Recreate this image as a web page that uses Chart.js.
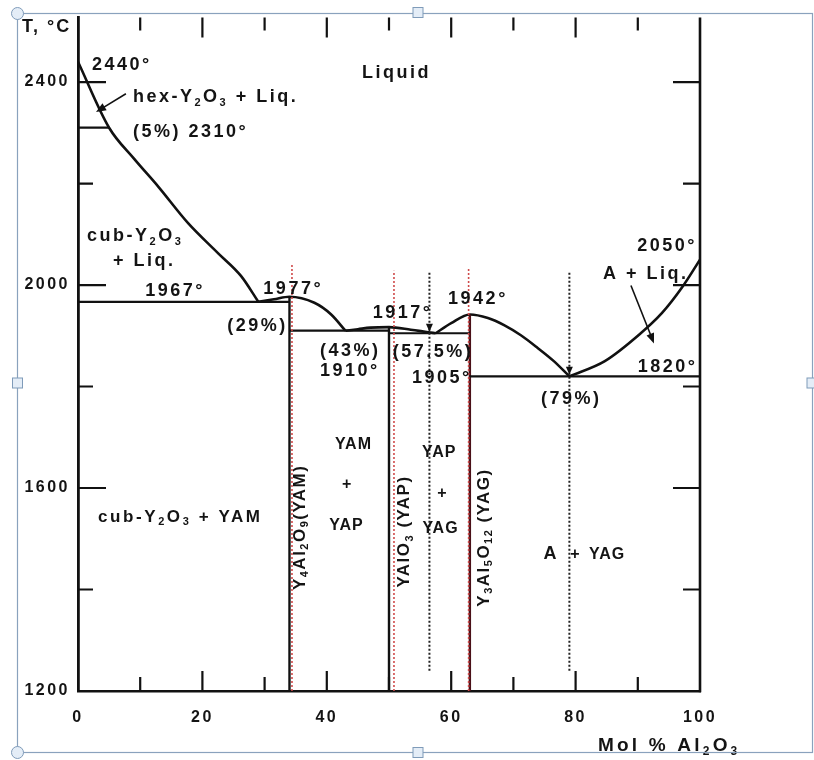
<!DOCTYPE html>
<html>
<head>
<meta charset="utf-8">
<script src="https://cdn.jsdelivr.net/npm/chart.js@4.4.1/dist/chart.umd.min.js"></script>
<style>
  html, body { margin: 0; padding: 0; background: #ffffff; }
  #wrap { position: relative; width: 814px; height: 760px; }
</style>
</head>
<body>
<div id="wrap"><canvas id="c" width="814" height="760"></canvas></div>
<script>
// Y2O3 – Al2O3 phase diagram (composition in mol % Al2O3, temperature in °C)

// axis ticks
const xTickLabels = [0, 20, 40, 60, 80, 100];
const xMarks = [10, 20, 30, 40, 50, 60, 70, 80, 90];
const yTickLabels = [1200, 1600, 2000, 2400];
const yMarks = [1400, 1600, 1800, 2000, 2200, 2400];

// liquidus of Y2O3 (2440° melting point down to the 29 % eutectic)
const liqY2O3X = [0, 5, 9, 12.9, 17.7, 22.5, 26.2, 29];
const liqY2O3T = [2440, 2310, 2249, 2194, 2122, 2063, 2018, 1967];

// YAM dome (29 % eutectic – YAM 1977° – 43 % eutectic)
const domeYamX = [29, 31.5, 34, 38, 40.7, 43];
const domeYamT = [1967, 1972, 1977, 1965, 1942, 1910];

// YAP dome (43 % – YAP 1917° – 57.5 % eutectic)
const domeYapX = [43, 45, 47, 50, 53.5, 56.3, 57.5];
const domeYapT = [1910, 1913, 1916, 1917, 1912, 1907, 1905];

// YAG dome (57.5 % – YAG 1942° – 79 % eutectic)
const domeYagX = [57.5, 60, 63, 65.9, 68.5, 71.2, 73.9, 76.5, 79];
const domeYagT = [1905, 1925, 1942, 1935, 1921, 1901, 1876, 1850, 1820];

// liquidus of Al2O3 (79 % eutectic up to 2050°)
const liqAl2O3X = [79, 84.7, 90.2, 93.9, 97.1, 100];
const liqAl2O3T = [1820, 1850, 1902, 1945, 1995, 2050];

// eutectic / invariant isotherms: [x from, x to, T]
const isotherms = [
  [0, 5, 2310],
  [0, 34, 1967],
  [34, 50, 1910],
  [50, 63, 1905],
  [63, 100, 1820]
];

// compounds: composition, congruent melting point
const compoundX = [34, 50, 63];
const compoundT = [1977, 1917, 1942];

// dotted guide lines: composition, lower and upper temperature
const redGuideX = [34.4, 50.8, 62.8];
const redGuideTop = [2040, 2028, 2032];
const blackGuideX = [56.5, 79];
const blackGuideLow = 1240;
const blackGuideTop = 2028;

const FONT = '"Liberation Sans", Arial, Helvetica, sans-serif';

function pts(xs, ts) { return xs.map((x, i) => ({ x: x, y: ts[i] })); }

function curve(data) {
  return { data, showLine: true, borderColor: '#111', borderWidth: 2.6, pointRadius: 0,
           fill: false, cubicInterpolationMode: 'monotone' };
}
function straight(data, w, color, dash) {
  return { data, showLine: true, borderColor: color || '#111', borderWidth: w || 2.4,
           pointRadius: 0, fill: false, tension: 0, borderDash: dash || [] };
}

const datasets = [];
redGuideX.forEach((x, i) => datasets.push(straight(pts([x, x], [1200, redGuideTop[i]]), 1.6, '#cf4a4a', [2, 2])));
blackGuideX.forEach(x => datasets.push(straight(pts([x, x], [blackGuideLow, blackGuideTop]), 2, '#222', [2, 2])));
isotherms.forEach(r => datasets.push(straight(pts([r[0], r[1]], [r[2], r[2]]), 2.2)));
compoundX.forEach((x, i) => datasets.push(straight(pts([x, x], [1200, compoundT[i]]), 2.4, i === 2 ? '#4a1018' : '#111')));
datasets.push(curve(pts(liqY2O3X, liqY2O3T)));
datasets.push(curve(pts(domeYamX, domeYamT)));
datasets.push(curve(pts(domeYapX, domeYapT)));
datasets.push(curve(pts(domeYagX, domeYagT)));
datasets.push(curve(pts(liqAl2O3X, liqAl2O3T)));

// text annotations: text (_n = subscript), composition, temperature, alignment, style
const notes = [
  ['Liquid', 51.0, 2420, 'center', 'big'],
  ['2440°', 2.25, 2437, 'left', 'big'],
  ['hex-Y_2O_3 + Liq.', 8.84, 2373, 'left', 'big'],
  ['(5%) 2310°', 8.84, 2304, 'left', 'big'],
  ['cub-Y_2O_3', 1.45, 2099, 'left', 'big'],
  ['+ Liq.', 5.63, 2050, 'left', 'big'],
  ['1967°', 10.8, 1991, 'left', 'big'],
  ['1977°', 29.8, 1995, 'left', 'big'],
  ['(29%)', 24.0, 1922, 'left', 'big'],
  ['(43%)', 38.9, 1873, 'left', 'big'],
  ['1910°', 38.9, 1834, 'left', 'big'],
  ['1917°', 47.4, 1948, 'left', 'big'],
  ['1942°', 59.5, 1975, 'left', 'big'],
  ['(57.5%)', 50.6, 1870, 'left', 'big'],
  ['1905°', 53.7, 1819, 'left', 'big'],
  ['2050°', 89.9, 2079, 'left', 'big'],
  ['A + Liq.', 84.4, 2024, 'left', 'big'],
  ['1820°', 90.0, 1842, 'left', 'big'],
  ['(79%)', 79.1, 1779, 'center', 'big'],
  ['YAM', 44.2, 1689, 'center', 'phase'],
  ['+', 43.2, 1609, 'center', 'phase'],
  ['YAP', 43.1, 1529, 'center', 'phase'],
  ['YAP', 58.0, 1672, 'center', 'phase'],
  ['+', 58.5, 1592, 'center', 'phase'],
  ['YAG', 58.2, 1523, 'center', 'phase'],
  ['cub-Y_2O_3 + YAM', 3.2, 1545, 'left', 'mid'],
  ['A', 75.9, 1472, 'center', 'big'],
  ['+', 79.9, 1472, 'center', 'phase'],
  ['YAG', 85.0, 1472, 'center', 'phase'],
  ['Y_4Al_2O_9(YAM)', 35.5, 1521, 'center', 'rot'],
  ['YAlO_3 (YAP)', 52.3, 1513, 'center', 'rot'],
  ['Y_3Al_5O_12 (YAG)', 65.1, 1501, 'center', 'rot']
];

const styles = {
  big:   { size: 18, spacing: 2.5 },
  mid:   { size: 17, spacing: 2.6 },
  phase: { size: 16, spacing: 1 },
  rot:   { size: 17, spacing: 1.5 },
  axisT: { size: 18, spacing: 2 },
  axisX: { size: 19, spacing: 3.2 }
};

// arrows: tail (x, T) -> tip (x, T)
const arrows = [
  [7.7, 2377, 2.9, 2341],
  [88.9, 1999, 92.6, 1885]
];
// small arrowheads on the eutectic guide lines: x, tip temperature
const guideHeads = [[56.5, 1908], [79, 1823]];

function parseRich(str) {
  const parts = [];
  const re = /_(\d+)/g;
  let last = 0, m;
  while ((m = re.exec(str)) !== null) {
    if (m.index > last) parts.push({ t: str.slice(last, m.index), sub: false });
    parts.push({ t: m[1], sub: true });
    last = re.lastIndex;
  }
  if (last < str.length) parts.push({ t: str.slice(last), sub: false });
  return parts;
}

function drawRich(ctx, str, x, y, align, st, rot) {
  const parts = parseRich(str);
  const subSize = Math.round(st.size * 0.62);
  ctx.save();
  ctx.fillStyle = '#141414';
  ctx.textBaseline = 'alphabetic';
  ctx.textAlign = 'left';
  ctx.letterSpacing = st.spacing + 'px';
  let total = 0;
  parts.forEach(p => {
    ctx.font = 'bold ' + (p.sub ? subSize : st.size) + 'px ' + FONT;
    p.w = ctx.measureText(p.t).width;
    total += p.w;
  });
  total -= st.spacing;
  ctx.translate(x, y);
  if (rot) ctx.rotate(-Math.PI / 2);
  let cx = align === 'center' ? -total / 2 : 0;
  const base = st.size * 0.36;
  parts.forEach(p => {
    ctx.font = 'bold ' + (p.sub ? subSize : st.size) + 'px ' + FONT;
    ctx.fillText(p.t, cx, p.sub ? base + st.size * 0.2 : base);
    cx += p.w;
  });
  ctx.restore();
}

function head(ctx, tx, ty, ang, len, half) {
  ctx.beginPath();
  ctx.moveTo(tx, ty);
  ctx.lineTo(tx - len * Math.cos(ang) + half * Math.sin(ang), ty - len * Math.sin(ang) - half * Math.cos(ang));
  ctx.lineTo(tx - len * Math.cos(ang) - half * Math.sin(ang), ty - len * Math.sin(ang) + half * Math.cos(ang));
  ctx.closePath();
  ctx.fill();
}

const diagram = {
  id: 'diagram',
  beforeDraw(chart) { chart.ctx.letterSpacing = '2.5px'; },
  afterDatasetsDraw(chart) {
    const ctx = chart.ctx;
    const xs = chart.scales.x, ys = chart.scales.y;
    const a = chart.chartArea;
    ctx.save();
    ctx.letterSpacing = '0px';
    ctx.strokeStyle = '#111';
    ctx.fillStyle = '#111';
    ctx.lineCap = 'butt';

    // right axis
    ctx.lineWidth = 2.6;
    ctx.beginPath();
    ctx.moveTo(a.right, a.top);
    ctx.lineTo(a.right, a.bottom + 1.3);
    ctx.stroke();

    // inward tick marks
    ctx.lineWidth = 2.2;
    xMarks.forEach(v => {
      const px = xs.getPixelForValue(v);
      const long = v % 20 === 0;
      ctx.beginPath();
      ctx.moveTo(px, a.bottom); ctx.lineTo(px, a.bottom - (long ? 20 : 14));
      ctx.moveTo(px, a.top); ctx.lineTo(px, a.top + (long ? 20 : 13));
      ctx.stroke();
    });
    yMarks.forEach(v => {
      const py = ys.getPixelForValue(v);
      const long = v % 400 === 0;
      ctx.beginPath();
      ctx.moveTo(a.left, py); ctx.lineTo(a.left + (long ? 28 : 15), py);
      ctx.moveTo(a.right, py); ctx.lineTo(a.right - (long ? 27 : 17), py);
      ctx.stroke();
    });

    // arrows
    ctx.lineWidth = 1.6;
    arrows.forEach(r => {
      const x0 = xs.getPixelForValue(r[0]), y0 = ys.getPixelForValue(r[1]);
      const x1 = xs.getPixelForValue(r[2]), y1 = ys.getPixelForValue(r[3]);
      const ang = Math.atan2(y1 - y0, x1 - x0);
      ctx.beginPath();
      ctx.moveTo(x0, y0); ctx.lineTo(x1 - 6 * Math.cos(ang), y1 - 6 * Math.sin(ang));
      ctx.stroke();
      head(ctx, x1, y1, ang, 10, 4);
    });
    guideHeads.forEach(g => {
      head(ctx, xs.getPixelForValue(g[0]), ys.getPixelForValue(g[1]), Math.PI / 2, 8, 3.5);
    });

    // labels
    notes.forEach(n => {
      drawRich(ctx, n[0], xs.getPixelForValue(n[1]), ys.getPixelForValue(n[2]), n[3], styles[n[4]], n[4] === 'rot');
    });

    // axis titles
    drawRich(ctx, 'T, °C', 22, 26, 'left', styles.axisT, false);
    drawRich(ctx, 'Mol % Al_2O_3', 598, 744, 'left', styles.axisX, false);
    ctx.restore();
  },
  afterDraw(chart) {
    const ctx = chart.ctx;
    ctx.save();
    ctx.letterSpacing = '0px';
    // selection frame with handles
    ctx.strokeStyle = '#8aa2bd';
    ctx.lineWidth = 1.2;
    ctx.strokeRect(17.5, 13.5, 795, 739);
    ctx.fillStyle = '#e4edf7';
    ctx.strokeStyle = '#7f9bb9';
    ctx.lineWidth = 1;
    [[17.5, 13.5], [17.5, 752.5]].forEach(p => {
      ctx.beginPath(); ctx.arc(p[0], p[1], 6, 0, Math.PI * 2); ctx.fill(); ctx.stroke();
    });
    [[418, 12.5], [17.5, 383], [418, 752.5], [812, 383]].forEach(p => {
      ctx.fillRect(p[0] - 5, p[1] - 5, 10, 10);
      ctx.strokeRect(p[0] - 5, p[1] - 5, 10, 10);
    });
    ctx.restore();
  }
};

new Chart(document.getElementById('c'), {
  type: 'scatter',
  data: { datasets },
  options: {
    responsive: false,
    animation: false,
    devicePixelRatio: 1,
    layout: { padding: { top: 13, right: 114, left: 0, bottom: 0 } },
    plugins: { legend: { display: false }, tooltip: { enabled: false } },
    scales: {
      x: {
        type: 'linear', min: 0, max: 100,
        afterFit: s => { s.height = 69; },
        grid: { display: false, drawTicks: false },
        border: { display: true, color: '#111', width: 2.6 },
        ticks: {
          stepSize: 20, autoSkip: false, maxRotation: 0, padding: 17, color: '#141414',
          font: { family: FONT, size: 16, weight: 'bold' },
          callback: v => xTickLabels.includes(v) ? String(v) : ''
        }
      },
      y: {
        type: 'linear', min: 1200, max: 2527,
        afterFit: s => { s.width = 78; },
        grid: { display: false, drawTicks: false },
        border: { display: true, color: '#111', width: 2.8 },
        ticks: {
          stepSize: 200, includeBounds: false, autoSkip: false, padding: 8, color: '#141414',
          font: { family: FONT, size: 16, weight: 'bold' },
          callback: v => yTickLabels.includes(v) ? String(v) : ''
        }
      }
    }
  },
  plugins: [diagram]
});
</script>
</body>
</html>
